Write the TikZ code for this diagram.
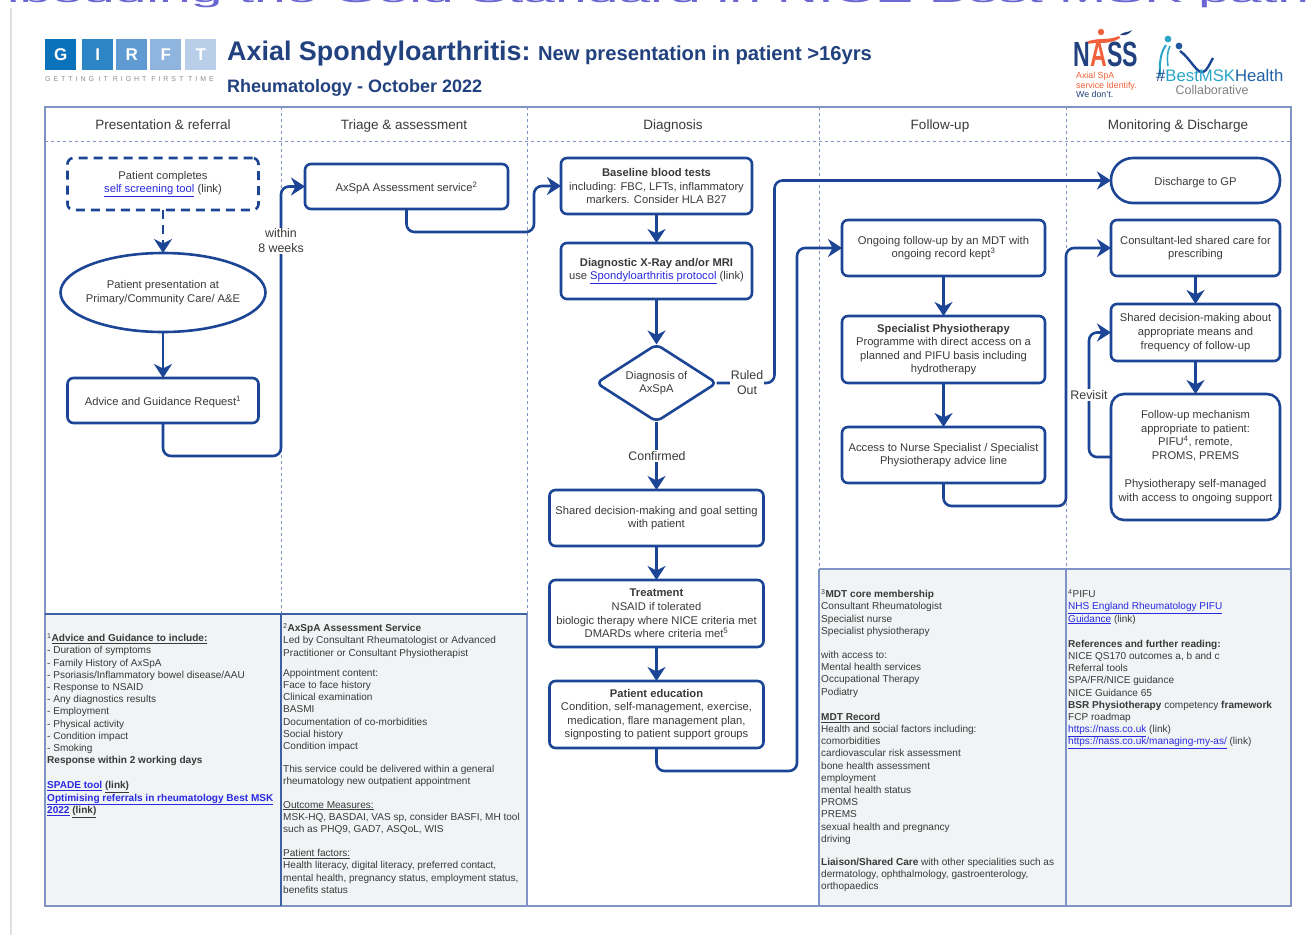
\documentclass[tikz,border=0pt]{standalone}
\usepackage{fontspec}
\setmainfont{Liberation Sans}
\usetikzlibrary{positioning,arrows.meta,shapes.geometric}
\definecolor{girftnavy}{HTML}{1C4595}
\definecolor{titleblue}{HTML}{21417F}
\definecolor{gridblue}{HTML}{7F93C4}
\definecolor{panelgrey}{HTML}{F0F4F5}
\definecolor{bannerblue}{HTML}{6A66D2}
\definecolor{bodygrey}{HTML}{3A3A3A}
\definecolor{linkblue}{HTML}{2A2AE0}
\definecolor{nassorange}{HTML}{F0603A}
\definecolor{mskteal}{HTML}{2AA5C8}
\newcommand{\lnk}[1]{\textcolor{linkblue}{\underline{#1}}}
\tikzset{%
    box/.style={draw=girftnavy,line width=2.6pt,rounded corners=6pt,fill=white,outer sep=0pt,inner sep=1pt,
        align=center,text=bodygrey,font=\fontsize{11.2}{13.6}\selectfont,execute at begin node={\rule{0pt}{12.5pt}}},
    wide/.style={box,minimum width=214pt,minimum height=#1},
    mid/.style={box,minimum width=203pt,minimum height=#1},
    narrow/.style={box,minimum width=191pt,minimum height=#1},
    right box/.style={box,minimum width=169pt,minimum height=#1},
    flow/.style={draw=girftnavy,line width=2.6pt,rounded corners=8pt,-{Stealth[length=14pt,width=18pt,inset=4.5pt]}},
    tag/.style={fill=white,inner sep=1pt,align=center,text=bodygrey,font=\fontsize{12.4}{15}\selectfont},
    panel/.style={anchor=north west,align=left,inner sep=0pt,text=bodygrey,font=\fontsize{10.05}{12.2}\selectfont},
    head/.style={anchor=base,text=bodygrey,font=\fontsize{13.5}{15}\selectfont},
    gridline/.style={draw=gridblue,line width=1.2pt},
    griddash/.style={draw=gridblue,line width=.8pt,dashed},
}

\begin{document}
\begin{tikzpicture}[x=1pt,y=-1pt]
    \useasboundingbox (0,0) rectangle (1307,935);
    \clip (0,0) rectangle (1307,935);
    \fill[white] (0,0) rectangle (1307,935);

    % banner cut by the page
    \node[anchor=base west,inner sep=0pt,yscale=.45,transform shape,text=bannerblue,font=\fontsize{57}{57}\selectfont] (banner) at (-66,2) {Embedding the Gold Standard in NICE Best MSK pathways};
    \draw[black!12,line width=1.5pt] (11,8) -- (11,935);

    % girft logo
    \foreach \lx/\ltr/\lcol in {45/G/0A72BA,82/I/2E85C6,116/R/5F9BD2,150/F/8FB4DE,185/T/B9CFE9}{
        \definecolor{logocol}{HTML}{\lcol}
        \node[fill=logocol,minimum size=31pt,inner sep=0pt,anchor=north west,text=white,font=\fontsize{17}{17}\selectfont\bfseries] (logo\ltr) at (\lx,39) {\ltr};
    }
    \node[anchor=west,inner sep=0pt,text=black!45,font=\fontsize{7}{7}\selectfont\addfontfeature{LetterSpace=42}] (strap) at (45,79) {GETTING IT RIGHT FIRST TIME};

    % titles
    \node[anchor=base west,inner sep=0pt,text=titleblue,font=\fontsize{26.9}{28}\selectfont\bfseries] (title) at (227,60) {Axial Spondyloarthritis:};
    \node[inner sep=0pt,text=titleblue,font=\fontsize{20.2}{22}\selectfont\bfseries,right=7pt of title.base east,anchor=base west] (subtitle) {New presentation in patient >16yrs};
    \node[anchor=base west,inner sep=0pt,text=titleblue,font=\fontsize{18}{20}\selectfont\bfseries] (dept) at (227,92) {Rheumatology - October 2022};

    % nass logo
    \fill[nassorange] (1101,32) circle (3.2);
    \fill[nassorange] (1086,42) .. controls (1098,37) and (1108,41) .. (1119,36) -- (1120,38) .. controls (1110,45) and (1098,42) .. (1086,44) -- cycle;
    \fill[titleblue] (1120,35) .. controls (1124,31) and (1128,33) .. (1132,30) .. controls (1130,34) and (1125,36) .. (1120,35) -- cycle;
    \node[inner sep=0pt,xscale=.66,transform shape,text=titleblue,font=\fontsize{35}{35}\selectfont\bfseries] (nass) at (1106,54) {N\textcolor{nassorange}{A}SS};
    \node[anchor=north west,inner sep=0pt,align=left,text=nassorange,font=\fontsize{8.8}{9.5}\selectfont] (nassline) at (1076,72) {Axial SpA\\service Identify.\\\textcolor{titleblue}{We don't.}};

    % msk logo
    \fill[mskteal] (1168,39) circle (3.4);
    \fill[girftnavy!80!mskteal] (1179,46) circle (3.4);
    \draw[draw=mskteal,line width=2pt] (1166,45) .. controls (1161,52) and (1159,62) .. (1160,76);
    \draw[draw=mskteal,line width=1.5pt] (1170,46) .. controls (1167,52) and (1167,58) .. (1168,66);
    \draw[draw=girftnavy,line width=2.4pt] (1180,51) .. controls (1190,58) and (1197,74) .. (1203,72) .. controls (1207,71) and (1210,63) .. (1213,58);
    \node[anchor=base west,inner sep=0pt,font=\fontsize{16.7}{17}\selectfont] (msk) at (1156,81) {\textcolor{girftnavy}{\#}\textcolor{mskteal}{BestMSK}\textcolor{girftnavy!70!mskteal}{Health}};
    \node[inner sep=0pt,text=black!50,font=\fontsize{12.5}{13}\selectfont] (collab) at (1212,90) {Collaborative};

    % lower panels
    \fill[panelgrey] (45,614) rectangle (527,906);
    \fill[panelgrey] (819,569) rectangle (1291,906);

    % grid
    \draw[griddash] (45,141) -- (1291,141);
    \draw[griddash] (281,107) -- (281,614);
    \draw[griddash] (527,107) -- (527,614);
    \draw[griddash] (819,107) -- (819,569);
    \draw[griddash] (1066,107) -- (1066,569);
    \draw[gridline] (45,107) rectangle (1291,906);
    \draw[gridline] (527,614) -- (527,906);
    \draw[gridline] (819,569) -- (819,906);
    \draw[gridline] (1066,569) -- (1066,906);
    \draw[gridline] (819,569) -- (1291,569);
    \draw[draw=girftnavy!85,line width=1.3pt] (45,614) -- (527,614);
    \draw[draw=girftnavy!85,line width=1.3pt] (281,614) -- (281,906);

    % column heads
    \foreach \hx/\hname/\htxt in {163/present/Presentation \& referral,404/triage/Triage \& assessment,673/diag/Diagnosis,940/follow/Follow-up,1178/monitor/Monitoring \& Discharge}{
        \node[head] (h\hname) at (\hx,129) {\htxt};
    }

    % first column
    \node[narrow=52pt,dashed,dash pattern=on 9pt off 6pt,rounded corners=6pt] (screen) at (163,184) {Patient completes\\\lnk{self screening tool} (link)};
    \node[box,ellipse,inner xsep=-6pt,inner ysep=0pt,minimum width=205pt,minimum height=79pt,below=43pt of screen] (present) {Patient presentation at\\Primary/Community Care/ A\&E};
    \node[narrow=45pt,below=46pt of present] (advice) {Advice and Guidance Request\textsuperscript{1}};

    % second column
    \node[mid=45pt] (assess) at (406.5,186.5) {AxSpA Assessment service\textsuperscript{2}};

    % third column
    \node[narrow=56pt] (blood) at (656.5,186) {\textbf{Baseline blood tests}\\including: FBC, LFTs, inflammatory\\markers. Consider HLA B27};
    \node[narrow=56pt,below=29pt of blood] (xray) {\textbf{Diagnostic X-Ray and/or MRI}\\use \lnk{Spondyloarthritis protocol} (link)};
    \node[box,diamond,aspect=1.57,inner sep=0pt,minimum width=120pt,minimum height=77pt,below=45.5pt of xray] (decide) {Diagnosis of\\AxSpA};
    \node[wide=56pt,below=68.5pt of decide] (shared) {Shared decision-making and goal setting\\with patient};
    \node[wide=67pt,below=34pt of shared,execute at begin node={}] (treat) {\textbf{Treatment}\\NSAID if tolerated\\biologic therapy where NICE criteria met\\DMARDs where criteria met\textsuperscript{5}};
    \node[wide=67pt,below=34pt of treat] (educate) {\textbf{Patient education}\\Condition, self-management, exercise,\\medication, flare management plan,\\signposting to patient support groups};

    % fourth column
    \node[mid=56pt] (ongoing) at (943.5,248) {Ongoing follow-up by an MDT with\\ongoing record kept\textsuperscript{3}};
    \node[mid=67pt,below=40pt of ongoing] (physio) {\textbf{Specialist Physiotherapy}\\Programme with direct access on a\\planned and PIFU basis including\\hydrotherapy};
    \node[mid=56pt,below=44pt of physio] (nurse) {Access to Nurse Specialist / Specialist\\Physiotherapy advice line};

    % fifth column
    \node[right box=45pt,rounded corners=22pt] (gp) at (1195.5,180.5) {Discharge to GP};
    \node[right box=56pt] (consult) at (1195.5,248) {Consultant-led shared care for\\prescribing};
    \node[right box=57pt,below=28pt of consult] (sdm) {Shared decision-making about\\appropriate means and\\frequency of follow-up};
    \node[right box=126pt,rounded corners=13pt,below=33pt of sdm,execute at begin node={}] (mech) {Follow-up mechanism\\appropriate to patient:\\PIFU\textsuperscript{4}, remote,\\PROMS, PREMS\\[15pt]Physiotherapy self-managed\\with access to ongoing support};

    % arrows
    \draw[flow,dash pattern=on 9pt off 6pt] (screen) -- (present);
    \draw[flow] (present) -- (advice);
    \draw[flow] (advice.south) -- ++(0,33) -- ++(118,0) |- (assess.west);
    \draw[flow] (assess.south) -- ++(0,23) -- ++(127.5,0) |- (blood.west);
    \draw[flow] (blood) -- (xray);
    \draw[flow] (xray) -- (decide);
    \draw[flow] (decide.east) -- ++(58,0) |- (gp.west);
    \draw[flow] (decide) -- (shared);
    \draw[flow] (shared) -- (treat);
    \draw[flow] (treat) -- (educate);
    \draw[flow] (educate.south) -- ++(0,23) -- ++(140.5,0) |- (ongoing.west);
    \draw[flow] (ongoing) -- (physio);
    \draw[flow] (physio) -- (nurse);
    \draw[flow] (nurse.south) -- ++(0,23) -- ++(122.5,0) |- (consult.west);
    \draw[flow] (consult) -- (sdm);
    \draw[flow] (sdm) -- (mech);
    \draw[flow] (mech.west) -- ++(-22,0) |- (sdm.west);

    % arrow labels
    \node[tag] (weeks) at (281,241) {within\\8 weeks};
    \node[tag] (ruled) at (747,383) {Ruled\\Out};
    \node[tag] (confirm) at (657,456) {Confirmed};
    \node[tag] (revisit) at (1089,395) {Revisit};

    % notes
    \node[panel] (note1) at (47,633) {\textsuperscript{1}\underline{\textbf{Advice and Guidance to include:}}\\
        - Duration of symptoms\\- Family History of AxSpA\\- Psoriasis/Inflammatory bowel disease/AAU\\- Response to NSAID\\- Any diagnostics results\\- Employment\\- Physical activity\\- Condition impact\\- Smoking\\
        \textbf{Response within 2 working days}\\[13pt]
        \lnk{\textbf{SPADE tool}} \underline{\textbf{(link)}}\\\lnk{\textbf{Optimising referrals in rheumatology Best MSK}}\\\lnk{\textbf{2022}} \underline{\textbf{(link)}}};
    \node[panel] (note2) at (283,623) {\textsuperscript{2}\textbf{AxSpA Assessment Service}\\
        Led by Consultant Rheumatologist or Advanced\\Practitioner or Consultant Physiotherapist\\[8pt]
        Appointment content:\\Face to face history\\Clinical examination\\BASMI\\Documentation of co-morbidities\\Social history\\Condition impact\\[11pt]
        This service could be delivered within a general\\rheumatology new outpatient appointment\\[11pt]
        \underline{Outcome Measures:}\\MSK-HQ, BASDAI, VAS sp, consider BASFI, MH tool\\such as PHQ9, GAD7, ASQoL, WIS\\[12pt]
        \underline{Patient factors:}\\Health literacy, digital literacy, preferred contact,\\mental health, pregnancy status, employment status,\\benefits status};
    \node[panel] (note3) at (821,589) {\textsuperscript{3}\textbf{MDT core membership}\\
        Consultant Rheumatologist\\Specialist nurse\\Specialist physiotherapy\\[12pt]
        with access to:\\Mental health services\\Occupational Therapy\\Podiatry\\[13pt]
        \underline{\textbf{MDT Record}}\\Health and social factors including:\\comorbidities\\cardiovascular risk assessment\\bone health assessment\\employment\\mental health status\\PROMS\\PREMS\\sexual health and pregnancy\\driving\\[11pt]
        \textbf{Liaison/Shared Care} with other specialities such as\\dermatology, ophthalmology, gastroenterology,\\orthopaedics};
    \node[panel] (note4) at (1068,589) {\textsuperscript{4}PIFU\\
        \lnk{NHS England Rheumatology PIFU}\\\lnk{Guidance} (link)\\[13pt]
        \textbf{References and further reading:}\\NICE QS170 outcomes a, b and c\\Referral tools\\SPA/FR/NICE guidance\\NICE Guidance 65\\\textbf{BSR Physiotherapy} competency \textbf{framework}\\FCP roadmap\\\lnk{https://nass.co.uk} (link)\\\lnk{https://nass.co.uk/managing-my-as/} (link)};
\end{tikzpicture}
\end{document}
